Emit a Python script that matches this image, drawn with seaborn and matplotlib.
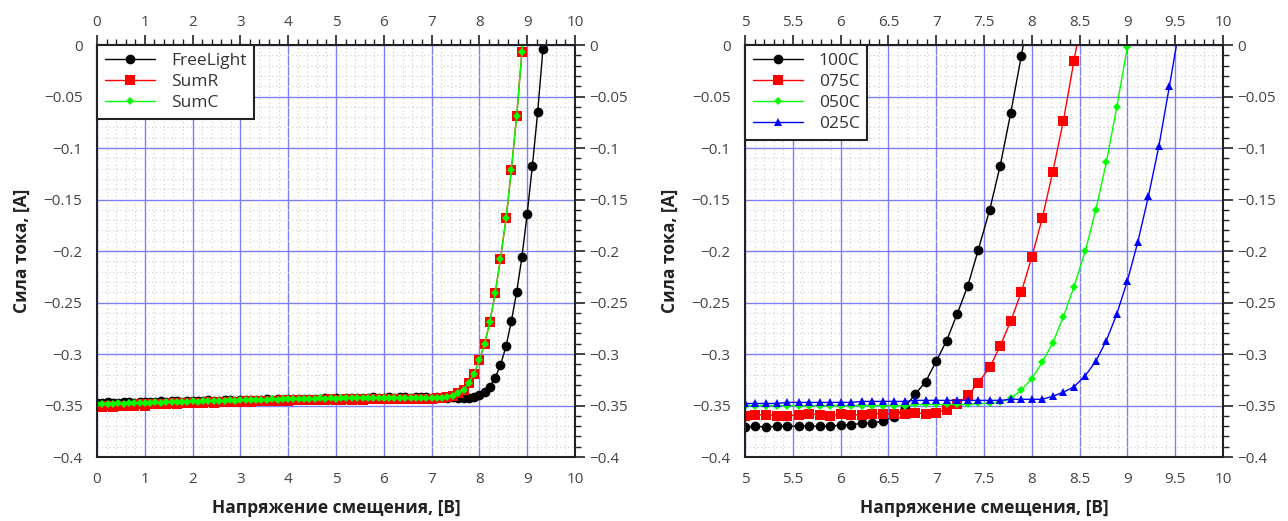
import matplotlib
matplotlib.use("Agg")
import matplotlib.pyplot as plt
import seaborn as sns
from matplotlib.ticker import MultipleLocator, FuncFormatter

# --- left panel: voltage grid and currents ---
volt_left = [0.00, 0.11, 0.22, 0.33, 0.44, 0.56, 0.67, 0.78, 0.89, 1.00,
             1.11, 1.22, 1.33, 1.44, 1.56, 1.67, 1.78, 1.89, 2.00, 2.11,
             2.22, 2.33, 2.44, 2.56, 2.67, 2.78, 2.89, 3.00, 3.11, 3.22,
             3.33, 3.44, 3.56, 3.67, 3.78, 3.89, 4.00, 4.11, 4.22, 4.33,
             4.44, 4.56, 4.67, 4.78, 4.89, 5.00, 5.11, 5.22, 5.33, 5.44,
             5.56, 5.67, 5.78, 5.89, 6.00, 6.11, 6.22, 6.33, 6.44, 6.56,
             6.67, 6.78, 6.89, 7.00, 7.11, 7.22, 7.33, 7.44, 7.56, 7.67,
             7.78, 7.89, 8.00, 8.11, 8.22, 8.33, 8.44, 8.56, 8.67, 8.78,
             8.89, 9.00, 9.11, 9.22, 9.33, 9.44]

freelight = [-0.348, -0.348, -0.347, -0.348, -0.348, -0.347, -0.347, -0.348, -0.347, -0.347,
             -0.347, -0.347, -0.346, -0.347, -0.346, -0.346, -0.347, -0.346, -0.346, -0.346,
             -0.346, -0.345, -0.346, -0.346, -0.345, -0.345, -0.346, -0.345, -0.345, -0.345,
             -0.345, -0.345, -0.344, -0.345, -0.344, -0.345, -0.344, -0.344, -0.344, -0.344,
             -0.344, -0.344, -0.344, -0.343, -0.344, -0.343, -0.344, -0.343, -0.343, -0.343,
             -0.343, -0.343, -0.342, -0.343, -0.343, -0.342, -0.343, -0.342, -0.342, -0.343,
             -0.342, -0.342, -0.342, -0.343, -0.342, -0.342, -0.343, -0.342, -0.343, -0.343,
             -0.343, -0.342, -0.340, -0.337, -0.332, -0.323, -0.311, -0.292, -0.268, -0.240,
             -0.206, -0.164, -0.117, -0.065, -0.004, 0.060]

sum_r = [-0.351, -0.351, -0.350, -0.351, -0.350, -0.350, -0.350, -0.350, -0.349, -0.350,
         -0.349, -0.349, -0.349, -0.349, -0.348, -0.349, -0.348, -0.348, -0.348, -0.348,
         -0.348, -0.347, -0.348, -0.347, -0.347, -0.347, -0.347, -0.347, -0.346, -0.347,
         -0.346, -0.346, -0.346, -0.346, -0.346, -0.345, -0.346, -0.345, -0.345, -0.345,
         -0.345, -0.345, -0.345, -0.345, -0.344, -0.345, -0.345, -0.344, -0.345, -0.344,
         -0.345, -0.344, -0.344, -0.344, -0.344, -0.344, -0.344, -0.344, -0.344, -0.344,
         -0.344, -0.344, -0.344, -0.344, -0.343, -0.343, -0.342, -0.341, -0.338, -0.335,
         -0.328, -0.319, -0.306, -0.290, -0.269, -0.241, -0.208, -0.168, -0.121, -0.069,
         -0.007, 0.060]

sum_c = [-0.349, -0.349, -0.349, -0.349, -0.348, -0.349, -0.348, -0.348, -0.348, -0.348,
         -0.348, -0.347, -0.348, -0.347, -0.347, -0.347, -0.347, -0.347, -0.346, -0.347,
         -0.346, -0.346, -0.346, -0.346, -0.346, -0.345, -0.346, -0.345, -0.345, -0.345,
         -0.345, -0.345, -0.345, -0.344, -0.345, -0.344, -0.344, -0.344, -0.344, -0.344,
         -0.344, -0.344, -0.343, -0.344, -0.343, -0.344, -0.343, -0.343, -0.343, -0.343,
         -0.343, -0.343, -0.343, -0.343, -0.343, -0.343, -0.343, -0.343, -0.343, -0.343,
         -0.343, -0.343, -0.343, -0.343, -0.343, -0.343, -0.342, -0.341, -0.338, -0.335,
         -0.328, -0.319, -0.306, -0.290, -0.269, -0.241, -0.208, -0.168, -0.121, -0.069,
         -0.007, 0.060]

# --- right panel: temperature series ---
volt_right = [5.00, 5.11, 5.22, 5.33, 5.44, 5.56, 5.67, 5.78, 5.89, 6.00,
              6.11, 6.22, 6.33, 6.44, 6.56, 6.67, 6.78, 6.89, 7.00, 7.11,
              7.22, 7.33, 7.44, 7.56, 7.67, 7.78, 7.89, 8.00, 8.11, 8.22,
              8.33, 8.44, 8.56, 8.67, 8.78, 8.89, 9.00, 9.11, 9.22, 9.33,
              9.44, 9.56]

t100 = [-0.371, -0.370, -0.371, -0.370, -0.370, -0.370, -0.370, -0.370, -0.370, -0.369,
        -0.369, -0.367, -0.367, -0.365, -0.361, -0.352, -0.339, -0.327, -0.307, -0.287,
        -0.261, -0.234, -0.199, -0.160, -0.117, -0.066, -0.011, 0.045]

t075 = [-0.360, -0.359, -0.359, -0.360, -0.360, -0.359, -0.358, -0.359, -0.360, -0.358,
        -0.359, -0.359, -0.358, -0.358, -0.358, -0.358, -0.357, -0.358, -0.357, -0.354,
        -0.349, -0.340, -0.328, -0.313, -0.292, -0.268, -0.240, -0.206, -0.168, -0.123,
        -0.074, -0.016, 0.045]

t050 = [-0.350, -0.350, -0.350, -0.350, -0.350, -0.350, -0.350, -0.350, -0.350, -0.350,
        -0.350, -0.350, -0.350, -0.350, -0.350, -0.350, -0.349, -0.349, -0.349, -0.349,
        -0.349, -0.349, -0.348, -0.348, -0.347, -0.343, -0.335, -0.324, -0.308, -0.289,
        -0.264, -0.235, -0.200, -0.160, -0.114, -0.060, -0.002, 0.055]

t025 = [-0.348, -0.348, -0.348, -0.348, -0.347, -0.347, -0.347, -0.347, -0.347, -0.347,
        -0.347, -0.346, -0.346, -0.346, -0.346, -0.346, -0.345, -0.345, -0.345, -0.345,
        -0.345, -0.345, -0.345, -0.345, -0.345, -0.344, -0.344, -0.344, -0.344, -0.341,
        -0.337, -0.332, -0.321, -0.307, -0.287, -0.261, -0.229, -0.191, -0.147, -0.098,
        -0.040, 0.025]

sns.set_style("white")
plt.rcParams['font.family'] = ['Open Sans', 'DejaVu Sans']

fig = plt.figure(figsize=(12.88, 5.21), dpi=100)
ax1 = fig.add_axes([0.0753, 0.1228, 0.3711, 0.7908])
ax2 = fig.add_axes([0.5784, 0.1228, 0.3711, 0.7908])

fmt = FuncFormatter(lambda v, p: ('%g' % round(v, 3)).replace('-', '\u2212'))


def style_axis(ax, xlim, xmaj, xmin):
    ax.set_xlim(*xlim)
    ax.set_ylim(-0.4, 0)
    ax.xaxis.set_major_locator(MultipleLocator(xmaj))
    ax.xaxis.set_minor_locator(MultipleLocator(xmin))
    ax.yaxis.set_major_locator(MultipleLocator(0.05))
    ax.yaxis.set_minor_locator(MultipleLocator(0.01))
    ax.xaxis.set_major_formatter(fmt)
    ax.yaxis.set_major_formatter(fmt)
    ax.grid(which='major', color='#7f7ff5', lw=1.0)
    ax.grid(which='minor', color='#cccccc', lw=0.8, ls=(0, (1, 2.5)))
    ax.set_axisbelow(True)
    ax.tick_params(which='both', direction='out', top=True, right=True,
                   labeltop=True, labelright=True, colors='#222222',
                   labelcolor='#444444', labelsize=11)
    ax.tick_params(which='major', length=7, width=1.2)
    ax.tick_params(which='minor', length=4, width=1.0)
    for s in ax.spines.values():
        s.set_visible(True)
        s.set_color('#222222')
        s.set_linewidth(1.5)
    ax.set_xlabel('Напряжение смещения, [В]', fontsize=12.5, fontweight='bold',
                  color='#222222', labelpad=9)
    ax.set_ylabel('Сила тока, [A]', fontsize=12.5, fontweight='bold',
                  color='#222222', labelpad=9)


sns.lineplot(x=volt_left, y=freelight, ax=ax1, color='black', marker='o',
             markersize=7, lw=1, markeredgewidth=0, label='FreeLight', sort=False)
sns.lineplot(x=volt_left[:len(sum_r)], y=sum_r, ax=ax1, color='red', marker='s',
             markersize=7, lw=1, markeredgewidth=0, label='SumR', sort=False)
sns.lineplot(x=volt_left[:len(sum_c)], y=sum_c, ax=ax1, color='#00ff00', marker='D',
             markersize=4.5, lw=1, markeredgewidth=0, label='SumC', sort=False)

sns.lineplot(x=volt_right[:len(t100)], y=t100, ax=ax2, color='black', marker='o',
             markersize=7, lw=1, markeredgewidth=0, label='100C', sort=False)
sns.lineplot(x=volt_right[:len(t075)], y=t075, ax=ax2, color='red', marker='s',
             markersize=7, lw=1, markeredgewidth=0, label='075C', sort=False)
sns.lineplot(x=volt_right[:len(t050)], y=t050, ax=ax2, color='#00ff00', marker='D',
             markersize=4.5, lw=1, markeredgewidth=0, label='050C', sort=False)
sns.lineplot(x=volt_right[:len(t025)], y=t025, ax=ax2, color='blue', marker='^',
             markersize=6, lw=1, markeredgewidth=0, label='025C', sort=False)

style_axis(ax1, (0, 10), 1, 0.2)
style_axis(ax2, (5, 10), 0.5, 0.1)

for ax in (ax1, ax2):
    leg = ax.legend(loc='upper left', borderaxespad=0, fancybox=False,
                    framealpha=1, edgecolor='#222222', fontsize=12.5,
                    handlelength=2.9, labelspacing=0.28, borderpad=0.45,
                    handletextpad=0.9, labelcolor='#333333')
    leg.get_frame().set_linewidth(1.5)

fig.savefig('out.png', dpi=100)
